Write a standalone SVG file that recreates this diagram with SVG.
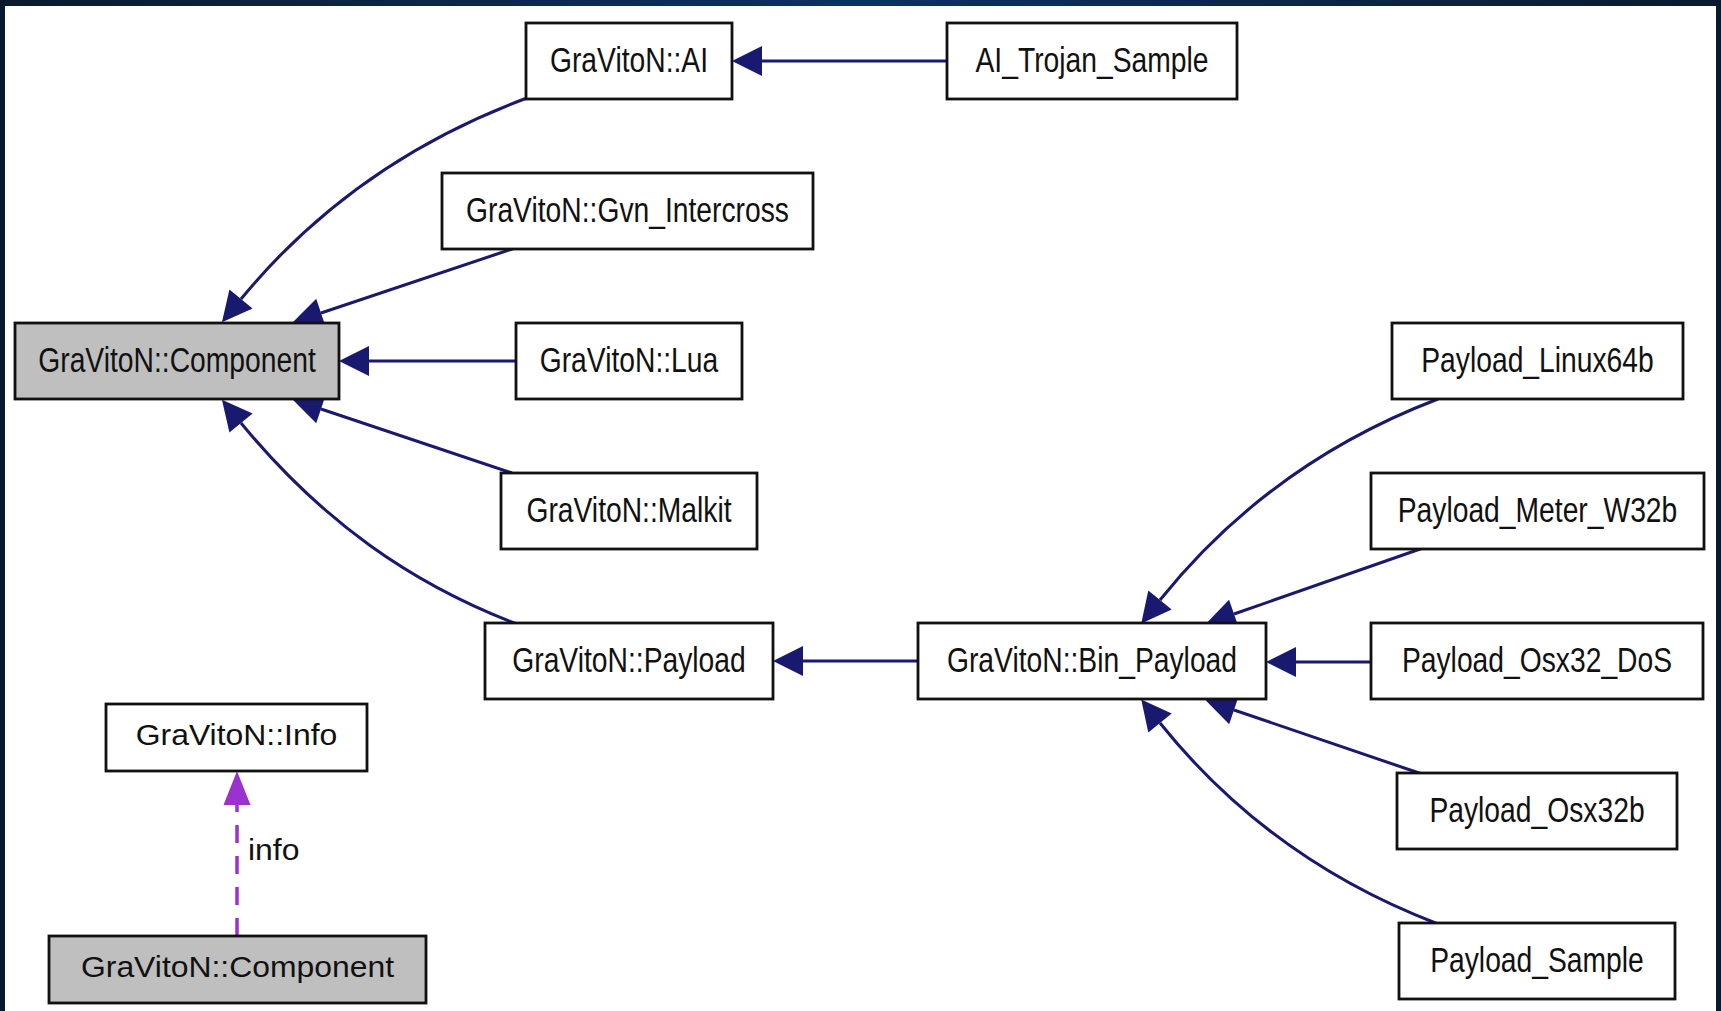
<svg xmlns="http://www.w3.org/2000/svg" width="1721" height="1011" viewBox="0 0 1721 1011">
<defs>
<linearGradient id="frame" x1="0" y1="0" x2="1" y2="0">
<stop offset="0" stop-color="#0a1a2e"/>
<stop offset="0.5" stop-color="#0c3260"/>
<stop offset="1" stop-color="#0a1a2e"/>
</linearGradient>
<marker id="ah" markerUnits="userSpaceOnUse" viewBox="0 0 32 32" markerWidth="32" markerHeight="32" refX="0" refY="16" orient="auto" overflow="visible">
<path d="M0,1 L30,16 L0,31 z" fill="#191970"/>
</marker>
<marker id="ahp" markerUnits="userSpaceOnUse" viewBox="0 0 34 28" markerWidth="34" markerHeight="28" refX="0" refY="14" orient="auto" overflow="visible">
<path d="M0,0.5 L34,14 L0,27.5 z" fill="#9a32cd"/>
</marker>
</defs>
<style>
.box { fill: #ffffff; stroke: #111111; stroke-width: 2.8; }
.grey { fill: #bfbfbf; }
.t { font-family: "Liberation Sans", Arial, Helvetica, sans-serif; font-size: 36px; fill: #111111; text-anchor: middle; }
.s { font-family: "Liberation Sans", Arial, Helvetica, sans-serif; font-size: 29px; fill: #111111; text-anchor: middle; }
.e { fill: none; stroke: #191970; stroke-width: 3; marker-end: url(#ah); }
.d { fill: none; stroke: #9a32cd; stroke-width: 3.5; stroke-dasharray: 18 13; marker-end: url(#ahp); }
</style>
<rect x="0" y="0" width="1721" height="1011" fill="url(#frame)"/>
<rect x="5" y="6" width="1711" height="1005" fill="#ffffff"/>

<g id="connectors">
<path class="e" d="M527,98 C419,138 322,200.5 241,299"/>
<path class="e" d="M515,248 L321,313"/>
<path class="e" d="M516,361 L369,361"/>
<path class="e" d="M512,473 L321,409"/>
<path class="e" d="M517,624 C412,584 322,521.5 241,423"/>
<path class="e" d="M947,61 L762,61"/>
<path class="e" d="M918,661 L803,661"/>
<path class="e" d="M1438,399 C1333,439 1239,501.5 1160,600"/>
<path class="e" d="M1423,548 L1234,614"/>
<path class="e" d="M1371,662 L1296,662"/>
<path class="e" d="M1422,774 L1234,710"/>
<path class="e" d="M1438,924 C1333,884 1239,821.5 1160,723"/>
<path class="d" d="M237,936 L237,805"/>
<text class="s" style="text-anchor:start" transform="translate(248,860) scale(1.1,1)">info</text>
</g>

<g id="n_component">
<rect class="box grey" x="15" y="323" width="324" height="76"/>
<text class="t" transform="translate(177,372) scale(0.785,1)">GraVitoN::Component</text>
</g>
<g id="n_ai">
<rect class="box" x="526" y="23" width="206" height="76"/>
<text class="t" transform="translate(629,72) scale(0.785,1)">GraVitoN::AI</text>
</g>
<g id="n_ai_trojan_sample">
<rect class="box" x="947" y="23" width="290" height="76"/>
<text class="t" transform="translate(1092,72) scale(0.785,1)">AI_Trojan_Sample</text>
</g>
<g id="n_gvn_intercross">
<rect class="box" x="442" y="173" width="371" height="76"/>
<text class="t" transform="translate(627.5,222) scale(0.785,1)">GraVitoN::Gvn_Intercross</text>
</g>
<g id="n_lua">
<rect class="box" x="516" y="323" width="226" height="76"/>
<text class="t" transform="translate(629,372) scale(0.785,1)">GraVitoN::Lua</text>
</g>
<g id="n_malkit">
<rect class="box" x="501" y="473" width="256" height="76"/>
<text class="t" transform="translate(629,522) scale(0.785,1)">GraVitoN::Malkit</text>
</g>
<g id="n_payload">
<rect class="box" x="485" y="623" width="288" height="76"/>
<text class="t" transform="translate(629,672) scale(0.785,1)">GraVitoN::Payload</text>
</g>
<g id="n_bin_payload">
<rect class="box" x="918" y="623" width="348" height="76"/>
<text class="t" transform="translate(1092,672) scale(0.785,1)">GraVitoN::Bin_Payload</text>
</g>
<g id="n_payload_linux64b">
<rect class="box" x="1392" y="323" width="291" height="76"/>
<text class="t" transform="translate(1537.5,372) scale(0.785,1)">Payload_Linux64b</text>
</g>
<g id="n_payload_meter_w32b">
<rect class="box" x="1371" y="473" width="333" height="76"/>
<text class="t" transform="translate(1537.5,522) scale(0.785,1)">Payload_Meter_W32b</text>
</g>
<g id="n_payload_osx32_dos">
<rect class="box" x="1371" y="623" width="332" height="76"/>
<text class="t" transform="translate(1537,672) scale(0.785,1)">Payload_Osx32_DoS</text>
</g>
<g id="n_payload_osx32b">
<rect class="box" x="1397" y="773" width="280" height="76"/>
<text class="t" transform="translate(1537,822) scale(0.785,1)">Payload_Osx32b</text>
</g>
<g id="n_payload_sample">
<rect class="box" x="1399" y="923" width="276" height="76"/>
<text class="t" transform="translate(1537,972) scale(0.785,1)">Payload_Sample</text>
</g>
<g id="n_info">
<rect class="box" x="106" y="704" width="261" height="67"/>
<text class="s" transform="translate(236.5,745) scale(1.1,1)">GraVitoN::Info</text>
</g>
<g id="n_component_2">
<rect class="box grey" x="49" y="936" width="377" height="67"/>
<text class="s" transform="translate(237.5,977) scale(1.1,1)">GraVitoN::Component</text>
</g>
</svg>
